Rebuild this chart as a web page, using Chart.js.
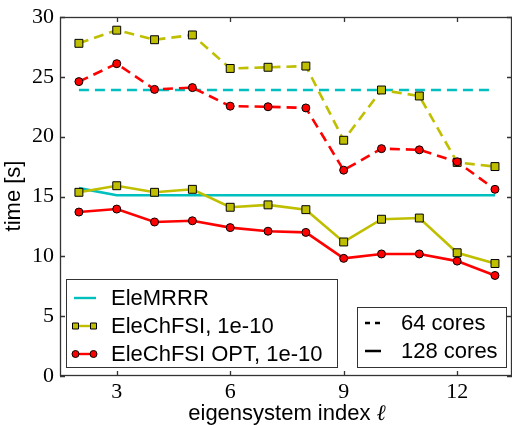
<!DOCTYPE html>
<html>
<head>
<meta charset="utf-8">
<script src="https://cdn.jsdelivr.net/npm/chart.js@4"></script>
<style>
  html, body { margin:0; padding:0; background:#fff; }
  #box { width:512px; height:425px; }
</style>
</head>
<body>
<div id="box"><canvas id="timeChart" width="512" height="425"></canvas></div>
<script>
// eigensystem index l
const idx = [2, 3, 4, 5, 6, 7, 8, 9, 10, 11, 12, 13];
const xTicks = [3, 6, 9, 12];
const yTicks = [0, 5, 10, 15, 20, 25, 30];

// time [s], 64 cores (dashed) and 128 cores (solid)
const mrrr64   = [23.9, 23.9, 23.9, 23.9, 23.9, 23.9, 23.9, 23.9, 23.9, 23.9, 23.9, 23.9];
const mrrr128  = [15.7, 15.1, 15.1, 15.1, 15.1, 15.1, 15.1, 15.1, 15.1, 15.1, 15.1, 15.1];
const chfsi64  = [27.8, 28.9, 28.1, 28.5, 25.7, 25.8, 25.9, 19.7, 23.9, 23.4, 17.85, 17.5];
const chfsi128 = [15.35, 15.9, 15.35, 15.6, 14.1, 14.3, 13.9, 11.2, 13.1, 13.2, 10.3, 9.4];
const opt64    = [24.6, 26.1, 23.95, 24.1, 22.55, 22.5, 22.4, 17.2, 19.0, 18.9, 17.9, 15.6];
const opt128   = [13.7, 13.95, 12.87, 12.97, 12.4, 12.1, 12.0, 9.83, 10.2, 10.2, 9.6, 8.4];

const CYAN = '#00bfbf', YEL = '#bfbf00', RED = '#ff0000';
const DASH = [10, 6];
const SANS = '"Liberation Sans", Arial, sans-serif';
const SERIF = '"Liberation Serif", "Times New Roman", serif';

function pts(arr){ return arr.map((v,i)=>({x:idx[i], y:v})); }

function series(data, color, dashed, marker){
  return {
    data: pts(data),
    borderColor: color,
    backgroundColor: color,
    borderWidth: 2.6,
    borderDash: dashed ? DASH : [],
    pointStyle: marker || 'circle',
    pointRadius: marker ? (marker === 'rect' ? 5.6 : 4) : 0,
    pointBorderColor: '#000',
    pointBorderWidth: 1,
    pointBackgroundColor: color,
    tension: 0
  };
}

// first dataset ends up on top
const datasets = [
  series(opt128, RED, false, 'circle'),
  series(opt64, RED, true, 'circle'),
  series(chfsi128, YEL, false, 'rect'),
  series(chfsi64, YEL, true, 'rect'),
  series(mrrr128, CYAN, false, null),
  series(mrrr64, CYAN, true, null)
];

const framePlugin = {
  id: 'frame',
  afterDatasetsDraw(chart){
    const c = chart.ctx, a = chart.chartArea;
    const xs = chart.scales.x, ys = chart.scales.y;
    c.save();
    c.strokeStyle = '#333';
    c.lineWidth = 1.3;
    c.strokeRect(a.left + 0.5, a.top + 0.5, a.right - a.left - 1, a.bottom - a.top - 1);
    // inward ticks on all sides
    c.beginPath();
    xTicks.forEach(v=>{
      const px = Math.round(xs.getPixelForValue(v)) + 0.5;
      c.moveTo(px, a.bottom); c.lineTo(px, a.bottom - 5);
      c.moveTo(px, a.top); c.lineTo(px, a.top + 5);
    });
    yTicks.forEach(v=>{
      const py = Math.round(ys.getPixelForValue(v)) + 0.5;
      c.moveTo(a.left, py); c.lineTo(a.left + 5, py);
      c.moveTo(a.right, py); c.lineTo(a.right - 5, py);
    });
    c.stroke();
    c.restore();
  },
  afterDraw(chart){
    const c = chart.ctx;
    c.save();
    c.fillStyle = '#000';
    // axis titles
    c.textBaseline = 'alphabetic';
    const t1 = 'eigensystem index ';
    c.font = '22px ' + SANS;
    const w1 = c.measureText(t1).width;
    c.font = 'italic 22px ' + SERIF;
    const w2 = c.measureText('ℓ').width;
    let x0 = 287 - (w1 + w2) / 2;
    c.font = '22px ' + SANS;
    c.textAlign = 'left';
    c.fillText(t1, x0, 420);
    c.font = 'italic 22px ' + SERIF;
    c.fillText('ℓ', x0 + w1, 420);

    c.save();
    c.translate(14, 196);
    c.rotate(-Math.PI / 2);
    c.font = '22px ' + SANS;
    c.textAlign = 'center';
    c.textBaseline = 'middle';
    c.fillText('time [s]', 0, 0);
    c.restore();

    // legend boxes
    c.fillStyle = '#fff';
    c.strokeStyle = '#333';
    c.lineWidth = 1;
    c.fillRect(66, 279, 272, 89);
    c.strokeRect(66.5, 279.5, 271, 88);
    c.fillRect(357, 307, 150, 61);
    c.strokeRect(357.5, 307.5, 149, 60);

    const rows = [
      {label:'EleMRRR', color:CYAN, marker:null, y:298},
      {label:'EleChFSI, 1e-10', color:YEL, marker:'rect', y:326},
      {label:'EleChFSI OPT, 1e-10', color:RED, marker:'circle', y:354}
    ];
    rows.forEach(r=>{
      c.strokeStyle = r.color;
      c.lineWidth = 2.4;
      c.setLineDash([]);
      c.beginPath(); c.moveTo(74, r.y); c.lineTo(96, r.y); c.stroke();
      if (r.marker){
        c.fillStyle = r.color;
        c.strokeStyle = '#000';
        c.lineWidth = 1;
        [75.5, 93.5].forEach(mx=>{
          c.beginPath();
          if (r.marker === 'rect') c.rect(mx - 3, r.y - 3, 6, 6);
          else c.arc(mx, r.y, 3.5, 0, Math.PI * 2);
          c.fill(); c.stroke();
        });
      }
      c.fillStyle = '#000';
      c.font = '22px ' + SANS;
      c.textAlign = 'left';
      c.textBaseline = 'middle';
      c.fillText(r.label, 111, r.y + 1);
    });

    c.strokeStyle = '#000';
    c.lineWidth = 2.4;
    c.beginPath();
    c.moveTo(365, 323); c.lineTo(370, 323);
    c.moveTo(375, 323); c.lineTo(380, 323);
    c.moveTo(365, 351); c.lineTo(381, 351);
    c.stroke();
    c.fillStyle = '#000';
    c.fillText('64 cores', 401, 324);
    c.fillText('128 cores', 401, 352);
    c.restore();
  }
};

const ctx = document.getElementById('timeChart').getContext('2d');

const chart = new Chart(ctx, {
  type: 'line',
  data: { datasets: datasets },
  plugins: [framePlugin],
  options: {
    responsive: false,
    animation: false,
    devicePixelRatio: 1,
    layout: { autoPadding: false, padding: { top: 17, right: 0, left: 0, bottom: 0 } },
    plugins: { legend: { display: false }, tooltip: { enabled: false } },
    scales: {
      x: {
        type: 'linear',
        min: 1.5, max: 13.45,
        grid: { display: false, drawTicks: false },
        border: { display: false },
        afterBuildTicks: s => { s.ticks = xTicks.map(v => ({ value: v })); },
        afterFit: s => { s.height = 49; s.paddingLeft = 0; s.paddingRight = 0; },
        ticks: { color: '#000', padding: 3, font: { family: SERIF, size: 22 } }
      },
      y: {
        min: 0, max: 30,
        grid: { display: false, drawTicks: false },
        border: { display: false },
        afterBuildTicks: s => { s.ticks = yTicks.map(v => ({ value: v })); },
        afterFit: s => { s.width = 60; s.paddingTop = 0; s.paddingBottom = 0; },
        ticks: { color: '#000', padding: 6, font: { family: SERIF, size: 22 } }
      }
    }
  }
});
</script>
</body>
</html>
